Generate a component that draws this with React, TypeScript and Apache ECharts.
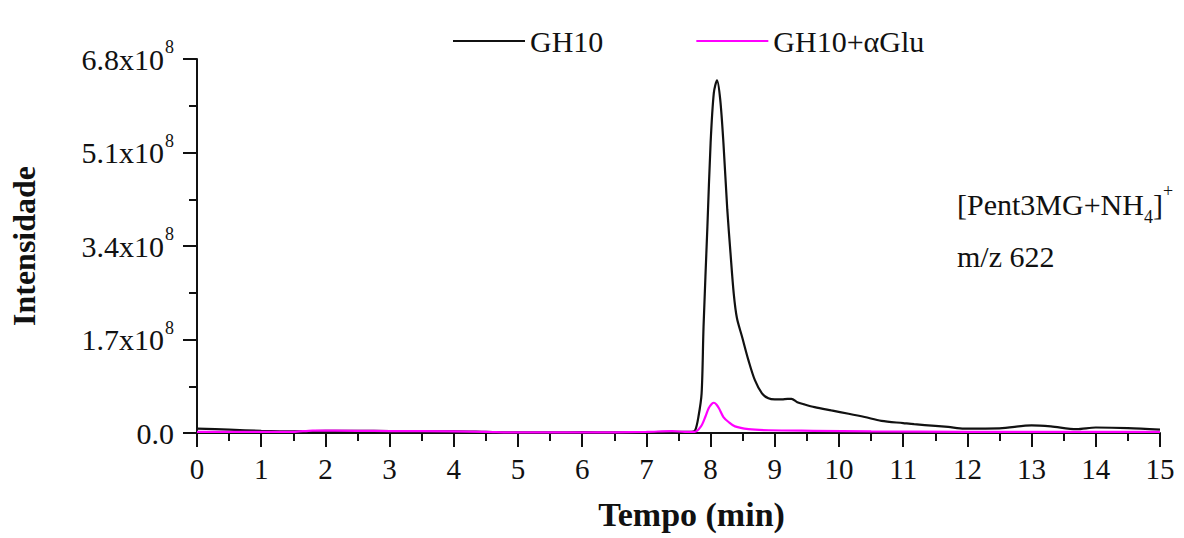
import React, { useEffect, useRef } from "react";
import * as echarts from "echarts";

// Time (min) and intensity (in units of 1e8) for each trace
const timeGH10 = [0, 0.5, 1, 1.5, 2, 2.5, 3, 3.5, 4, 4.5, 5, 5.5, 6, 6.5, 7, 7.4, 7.7, 7.76, 7.81, 7.86, 7.89, 7.95, 8.0, 8.05, 8.1, 8.15, 8.2, 8.26, 8.31, 8.36, 8.41, 8.49, 8.59, 8.69, 8.8, 8.9, 9.0, 9.11, 9.2, 9.26, 9.35, 9.46, 9.62, 9.88, 10.15, 10.4, 10.66, 11.0, 11.17, 11.5, 11.7, 11.95, 12.5, 13.0, 13.3, 13.7, 14.0, 14.5, 15.0];
const valGH10 = [0.08, 0.06, 0.04, 0.03, 0.04, 0.04, 0.035, 0.03, 0.03, 0.02, 0.01, 0.01, 0.015, 0.01, 0.015, 0.02, 0.02, 0.05, 0.29, 0.72, 1.93, 3.75, 5.27, 6.18, 6.41, 6.06, 5.27, 4.06, 3.27, 2.54, 2.09, 1.75, 1.32, 0.96, 0.72, 0.63, 0.61, 0.61, 0.62, 0.62, 0.56, 0.52, 0.47, 0.41, 0.35, 0.29, 0.22, 0.18, 0.16, 0.13, 0.11, 0.08, 0.085, 0.14, 0.12, 0.07, 0.1, 0.09, 0.06];

const timeAGlu = [0, 1, 1.5, 1.8, 2.5, 3, 4, 4.5, 5, 6, 7, 7.4, 7.6, 7.75, 7.85, 7.92, 7.97, 8.02, 8.05, 8.09, 8.13, 8.2, 8.28, 8.38, 8.59, 8.9, 9.6, 10.5, 12, 13, 15];
const valAGlu = [0.02, 0.02, 0.02, 0.045, 0.04, 0.035, 0.03, 0.02, 0.01, 0.01, 0.02, 0.035, 0.02, 0.02, 0.12, 0.3, 0.45, 0.53, 0.55, 0.52, 0.45, 0.29, 0.2, 0.12, 0.07, 0.05, 0.04, 0.03, 0.02, 0.02, 0.02];

const seriesNames = ["GH10", "GH10+\u03b1Glu"];
const seriesColors = ["#111111", "#ff00ff"];
const yTicksMax = 6.8;
const yTickStep = 1.7;

const FONT = "'Liberation Serif', 'Times New Roman', serif";

export default function App() {
  const ref = useRef<HTMLDivElement>(null);
  useEffect(() => {
    if (!ref.current) return;
    const chart = echarts.init(ref.current, null, { renderer: "svg" });
    const pair = (t: number[], v: number[]) => t.map((x, i) => [x, v[i]]);
    chart.setOption({
      animation: false,
      backgroundColor: "#ffffff",
      textStyle: { fontFamily: FONT },
      grid: { left: 193, right: 24, top: 59, bottom: 105, containLabel: false },
      legend: {
        left: 448,
        top: 21,
        itemWidth: 72,
        itemHeight: 2,
        itemGap: 93,
        icon: "rect",
        data: seriesNames,
        textStyle: { fontFamily: FONT, fontSize: 30, color: "#111", lineHeight: 30 },
      },
      xAxis: {
        type: "value",
        min: 0,
        max: 15,
        interval: 1,
        name: "Tempo (min)",
        nameLocation: "middle",
        nameGap: 64,
        nameTextStyle: { fontFamily: FONT, fontSize: 34, fontWeight: "bold", color: "#111", padding: [0, 0, 0, 26] },
        axisLine: { show: true, onZero: false, lineStyle: { color: "#111", width: 2 } },
        axisTick: { show: true, inside: false, length: 14, lineStyle: { color: "#111", width: 2 } },
        minorTick: { show: true, splitNumber: 2, length: 8, lineStyle: { color: "#111", width: 2 } },
        splitLine: { show: false },
        axisLabel: { margin: 21, fontFamily: FONT, fontSize: 29, color: "#111" },
      },
      yAxis: {
        type: "value",
        min: 0,
        max: yTicksMax,
        interval: yTickStep,
        name: "Intensidade",
        nameLocation: "middle",
        nameGap: 157,
        nameRotate: 90,
        nameTextStyle: { fontFamily: FONT, fontSize: 32, fontWeight: "bold", color: "#111" },
        axisLine: { show: true, lineStyle: { color: "#111", width: 2 } },
        axisTick: { show: true, inside: false, length: 14, lineStyle: { color: "#111", width: 2 } },
        minorTick: { show: true, splitNumber: 2, length: 8, lineStyle: { color: "#111", width: 2 } },
        splitLine: { show: false },
        axisLabel: {
          margin: 23,
          formatter: (v: number) => (v === 0 ? "{a|0.0}" : `{a|${v.toFixed(1)}x10}{s|8}`),
          rich: {
            a: { fontFamily: FONT, fontSize: 30, color: "#111", lineHeight: 42 },
            s: { fontFamily: FONT, fontSize: 18, color: "#111", verticalAlign: "top", lineHeight: 18, padding: [0, 0, 0, 1] },
          },
        },
      },
      graphic: [
        {
          type: "text",
          left: 957,
          top: 182,
          style: {
            text: "{a|[Pent3MG+NH}{sub|4}{a|]}{sup|+}",
            rich: {
              a: { fontFamily: FONT, fontSize: 30, fill: "#111", lineHeight: 44 },
              sub: { fontFamily: FONT, fontSize: 18, fill: "#111", verticalAlign: "bottom", lineHeight: 18 },
              sup: { fontFamily: FONT, fontSize: 18, fill: "#111", verticalAlign: "top", lineHeight: 18 },
            },
          },
        },
        {
          type: "text",
          left: 957,
          top: 241,
          style: { text: "m/z 622", fontFamily: FONT, fontSize: 30, fill: "#111" },
        },
      ],
      series: [
        {
          name: seriesNames[0],
          type: "line",
          data: pair(timeGH10, valGH10),
          showSymbol: false,
          symbol: "none",
          smooth: 0.3,
          lineStyle: { color: seriesColors[0], width: 2.2 },
          itemStyle: { color: seriesColors[0] },
        },
        {
          name: seriesNames[1],
          type: "line",
          data: pair(timeAGlu, valAGlu),
          showSymbol: false,
          symbol: "none",
          smooth: 0.3,
          lineStyle: { color: seriesColors[1], width: 2.2 },
          itemStyle: { color: seriesColors[1] },
        },
      ],
    });
    return () => chart.dispose();
  }, []);
  return <div ref={ref} style={{ position: "absolute", left: 0, top: 0, width: 1184, height: 538 }} />;
}
